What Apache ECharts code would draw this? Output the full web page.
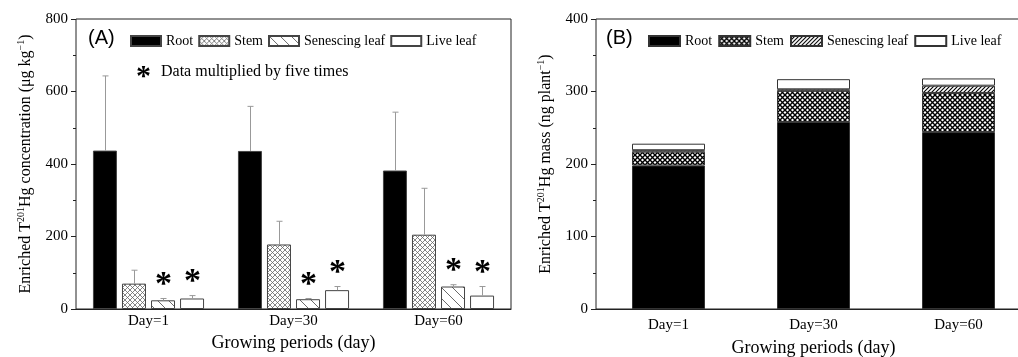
<!DOCTYPE html>
<html><head><meta charset="utf-8">
<script src="https://cdn.jsdelivr.net/npm/echarts@6/dist/echarts.min.js"></script>
<style>html,body{margin:0;padding:0;background:#fff}#c{width:1018px;height:357px}</style>
</head><body><div id="c"></div>
<script>
const categories = ['Day=1', 'Day=30', 'Day=60'];
const seriesNames = ['Root', 'Stem', 'Senescing leaf', 'Live leaf'];
// Panel A: concentration (mean and SD)
const concRoot = [437, 436, 382];
const concRootSD = [206, 123, 161];
const concStem = [70, 178, 205];
const concStemSD = [37, 64, 128];
const concSen = [24, 27, 62];
const concSenSD = [5, 2, 5];
const concLive = [29, 52, 37];
const concLiveSD = [8, 10, 25];
const starred = [false, false, true, true];
// Panel B: mass (stacked)
const massRoot = [198, 258, 244];
const massStem = [19, 43, 54];
const massSen = [2, 2, 10];
const massLive = [9, 14, 10];

function mk(size, draw) {
  const c = document.createElement('canvas');
  c.width = size; c.height = size;
  const g = c.getContext('2d');
  g.fillStyle = '#fff'; g.fillRect(0, 0, size, size);
  draw(g, size);
  return { image: c, repeat: 'repeat' };
}
function cross(color, lw, s) {
  return mk(s, (g, s) => {
    g.strokeStyle = color; g.lineWidth = lw;
    g.beginPath(); g.moveTo(0, 0); g.lineTo(s, s); g.moveTo(s, 0); g.lineTo(0, s); g.stroke();
  });
}
function diag(color, lw, s, back) {
  return mk(s, (g, s) => {
    g.strokeStyle = color; g.lineWidth = lw; g.beginPath();
    if (back) {
      g.moveTo(0, 0); g.lineTo(s, s); g.moveTo(-1, s - 1); g.lineTo(1, s + 1); g.moveTo(s - 1, -1); g.lineTo(s + 1, 1);
    } else {
      g.moveTo(0, s); g.lineTo(s, 0); g.moveTo(-1, 1); g.lineTo(1, -1); g.moveTo(s - 1, s + 1); g.lineTo(s + 1, s - 1);
    }
    g.stroke();
  });
}
const pA = ['#000', cross('#666', 0.8, 5), diag('#444', 0.8, 11, true), '#fff'];
const pB = ['#000', cross('#000', 1.4, 5), diag('#000', 1.1, 4, false), '#fff'];

const serif = 'Liberation Serif';
const means = [concRoot, concStem, concSen, concLive];
const sds = [concRootSD, concStemSD, concSenSD, concLiveSD];
const BW = 24, GAPP = 0.21;
const gap = BW * GAPP;
const tot = 4 * BW + 3 * gap;
const offs = [0, 1, 2, 3].map(k => -tot / 2 + BW / 2 + k * (BW + gap));

const errData = [];
for (let k = 0; k < 4; k++) for (let i = 0; i < 3; i++) errData.push([i, means[k][i], means[k][i] + sds[k][i], k]);

const yNameRich = {
  a: { fontFamily: serif, fontSize: 16, color: '#000', lineHeight: 20 },
  s: { fontFamily: serif, fontSize: 10, color: '#000', verticalAlign: 'top', lineHeight: 20, padding: [0, 0, 8, 0] }
};

const seriesA = seriesNames.map((n, k) => ({
  name: n, type: 'bar', xAxisIndex: 0, yAxisIndex: 0, data: means[k],
  barWidth: BW, barGap: (GAPP * 100) + '%',
  itemStyle: { color: pA[k], borderColor: '#444', borderWidth: 1 }
}));
const seriesB = seriesNames.map((n, k) => ({
  name: n + ' ', type: 'bar', xAxisIndex: 1, yAxisIndex: 1, stack: 'mass',
  data: [massRoot, massStem, massSen, massLive][k], barWidth: 73,
  itemStyle: { color: pB[k], borderColor: '#333', borderWidth: 1 }
}));

const errSeries = {
  type: 'custom', xAxisIndex: 0, yAxisIndex: 0, z: 5, data: errData, silent: true,
  renderItem(params, api) {
    const cat = api.value(0), m = api.value(1), hi = api.value(2), k = api.value(3);
    const p0 = api.coord([cat, m]), p1 = api.coord([cat, hi]);
    const x = Math.round(p0[0] + offs[k]) + 0.5;
    const ch = [
      { type: 'line', shape: { x1: x, y1: p0[1], x2: x, y2: p1[1] }, style: { stroke: '#999', lineWidth: 1 } },
      { type: 'line', shape: { x1: x - 3, y1: p1[1], x2: x + 3, y2: p1[1] }, style: { stroke: '#999', lineWidth: 1 } }
    ];
    if (starred[k]) ch.push({ type: 'text', x: x, y: p1[1] + 4, style: { text: '*', fontFamily: serif, fontSize: 34, fontWeight: 'bold', fill: '#000', align: 'center', verticalAlign: 'bottom' } });
    return { type: 'group', children: ch };
  }
};

const axisCommon = {
  axisLine: { lineStyle: { color: '#222', width: 1 } },
  axisLabel: { fontFamily: serif, fontSize: 15, color: '#000' },
  splitLine: { show: false }
};

const option = {
  animation: false,
  grid: [
    { left: 76, top: 19, width: 435, height: 290, show: true, borderColor: '#222', borderWidth: 1, outerBoundsMode: 'none', containLabel: false },
    { left: 596, top: 19, width: 435, height: 290, show: true, borderColor: '#222', borderWidth: 1, outerBoundsMode: 'none', containLabel: false }
  ],
  legend: [
    { data: seriesNames, left: 130, top: 34, padding: 0, itemWidth: 30, itemHeight: 10, itemGap: 5, icon: 'rect',
      textStyle: { fontFamily: serif, fontSize: 14, color: '#000' }, selectedMode: false },
    { data: seriesNames.map(n => n + ' '), left: 648, top: 34, padding: 0, itemWidth: 31, itemHeight: 10, itemGap: 6, icon: 'rect',
      formatter: n => n.trim(), textStyle: { fontFamily: serif, fontSize: 14, color: '#000' }, selectedMode: false }
  ],
  xAxis: [0, 1].map(i => Object.assign({}, axisCommon, {
    type: 'category', gridIndex: i, data: categories,
    axisTick: { show: false },
    axisLabel: Object.assign({}, axisCommon.axisLabel, { margin: i === 0 ? 5 : 9 }),
    name: 'Growing periods (day)', nameLocation: 'middle', nameGap: i === 0 ? 18 : 30,
    nameTextStyle: { fontFamily: serif, fontSize: 18, color: '#000' }
  })),
  yAxis: [
    Object.assign({}, axisCommon, {
      type: 'value', gridIndex: 0, min: 0, max: 800, interval: 200,
      axisTick: { show: true, length: 5 }, minorTick: { show: true, splitNumber: 2, length: 3, lineStyle: { color: '#222' } },
      axisLabel: Object.assign({}, axisCommon.axisLabel, { margin: 8 }),
      name: '{a|Enriched T}{s|201}{a|Hg concentration (μg kg}{s|−1}{a|)}', nameLocation: 'middle', nameRotate: 90, nameGap: 40,
      nameTextStyle: { rich: yNameRich }
    }),
    Object.assign({}, axisCommon, {
      type: 'value', gridIndex: 1, min: 0, max: 400, interval: 100,
      axisTick: { show: true, length: 5 }, minorTick: { show: true, splitNumber: 2, length: 3, lineStyle: { color: '#222' } },
      axisLabel: Object.assign({}, axisCommon.axisLabel, { margin: 8 }),
      name: '{a|Enriched T}{s|201}{a|Hg mass (ng plant}{s|−1}{a|)}', nameLocation: 'middle', nameRotate: 90, nameGap: 40,
      nameTextStyle: { rich: yNameRich }
    })
  ],
  graphic: [
    { type: 'text', left: 88, top: 28, style: { text: '(A)', fontFamily: 'Liberation Sans', fontSize: 20, fill: '#000' } },
    { type: 'text', left: 606, top: 28, style: { text: '(B)', fontFamily: 'Liberation Sans', fontSize: 20, fill: '#000' } },
    { type: 'text', left: 136, top: 62, style: { text: '*', fontFamily: serif, fontSize: 30, fontWeight: 'bold', fill: '#000' } },
    { type: 'text', left: 161, top: 64, style: { text: 'Data multiplied by five times', fontFamily: serif, fontSize: 16, fill: '#000' } }
  ],
  series: [...seriesA, errSeries, ...seriesB]
};
const chart = echarts.init(document.getElementById('c'), null, { renderer: 'canvas' });
chart.setOption(option);
</script></body></html>
